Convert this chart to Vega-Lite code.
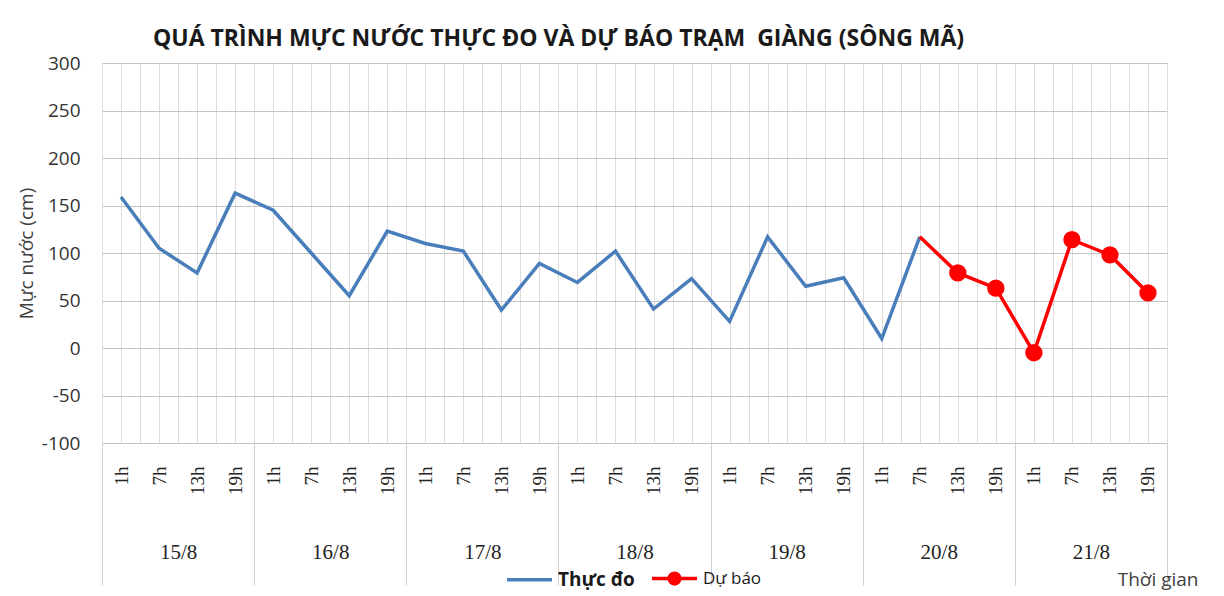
{
  "$schema": "https://vega.github.io/schema/vega-lite/v6.json",
  "width": 1065,
  "height": 380,
  "autosize": {"type": "none"},
  "padding": {"left": 102, "top": 63, "right": 57, "bottom": 153},
  "background": "white",
  "config": {"view": {"stroke": null}},
  "title": {
    "text": "QUÁ TRÌNH MỰC NƯỚC THỰC ĐO VÀ DỰ BÁO TRẠM\u00a0 GIÀNG (SÔNG MÃ)",
    "anchor": "start", "dx": 136, "offset": 3,
    "font": "Open Sans", "fontSize": 23, "fontWeight": "bold", "color": "#1a1a1a"
  },
  "data": {"values": [
    {"i": 0, "day": "15/8", "hour": "1h", "v": 159, "s": "Thực đo"},
    {"i": 1, "day": "15/8", "hour": "7h", "v": 105, "s": "Thực đo"},
    {"i": 2, "day": "15/8", "hour": "13h", "v": 79, "s": "Thực đo"},
    {"i": 3, "day": "15/8", "hour": "19h", "v": 163, "s": "Thực đo"},
    {"i": 4, "day": "16/8", "hour": "1h", "v": 145, "s": "Thực đo"},
    {"i": 5, "day": "16/8", "hour": "7h", "v": 100, "s": "Thực đo"},
    {"i": 6, "day": "16/8", "hour": "13h", "v": 55, "s": "Thực đo"},
    {"i": 7, "day": "16/8", "hour": "19h", "v": 123, "s": "Thực đo"},
    {"i": 8, "day": "17/8", "hour": "1h", "v": 110, "s": "Thực đo"},
    {"i": 9, "day": "17/8", "hour": "7h", "v": 102, "s": "Thực đo"},
    {"i": 10, "day": "17/8", "hour": "13h", "v": 40, "s": "Thực đo"},
    {"i": 11, "day": "17/8", "hour": "19h", "v": 89, "s": "Thực đo"},
    {"i": 12, "day": "18/8", "hour": "1h", "v": 69, "s": "Thực đo"},
    {"i": 13, "day": "18/8", "hour": "7h", "v": 102, "s": "Thực đo"},
    {"i": 14, "day": "18/8", "hour": "13h", "v": 41, "s": "Thực đo"},
    {"i": 15, "day": "18/8", "hour": "19h", "v": 73, "s": "Thực đo"},
    {"i": 16, "day": "19/8", "hour": "1h", "v": 28, "s": "Thực đo"},
    {"i": 17, "day": "19/8", "hour": "7h", "v": 117, "s": "Thực đo"},
    {"i": 18, "day": "19/8", "hour": "13h", "v": 65, "s": "Thực đo"},
    {"i": 19, "day": "19/8", "hour": "19h", "v": 74, "s": "Thực đo"},
    {"i": 20, "day": "20/8", "hour": "1h", "v": 10, "s": "Thực đo"},
    {"i": 21, "day": "20/8", "hour": "7h", "v": 117, "s": "Thực đo"},
    {"i": 21, "day": "20/8", "hour": "7h", "v": 117, "s": "Dự báo"},
    {"i": 22, "day": "20/8", "hour": "13h", "v": 79, "s": "Dự báo"},
    {"i": 23, "day": "20/8", "hour": "19h", "v": 63, "s": "Dự báo"},
    {"i": 24, "day": "21/8", "hour": "1h", "v": -5, "s": "Dự báo"},
    {"i": 25, "day": "21/8", "hour": "7h", "v": 114, "s": "Dự báo"},
    {"i": 26, "day": "21/8", "hour": "13h", "v": 98, "s": "Dự báo"},
    {"i": 27, "day": "21/8", "hour": "19h", "v": 58, "s": "Dự báo"}
  ]},
  "layer": [
    {
      "transform": [{"filter": "datum.s == 'Thực đo'"}],
      "mark": {"type": "line", "strokeWidth": 3.5},
      "encoding": {
        "x": {
          "field": "i", "type": "quantitative",
          "scale": {"domain": [-0.5, 27.5], "nice": false, "zero": false},
          "axis": {
            "orient": "bottom",
            "values": [0,1,2,3,4,5,6,7,8,9,10,11,12,13,14,15,16,17,18,19,20,21,22,23,24,25,26,27],
            "labelExpr": "['1h','7h','13h','19h'][datum.value % 4]",
            "labelAngle": 270, "labelAlign": "right", "labelBaseline": "middle",
            "labelPadding": 23, "labelFont": "Liberation Serif", "labelFontSize": 19,
            "labelColor": "#222222", "labelFlush": false, "labelOverlap": false, "labelBound": false,
            "ticks": false, "domain": false, "grid": true, "gridColor": "#dcdcdc", "gridWidth": 1,
            "title": null
          }
        },
        "y": {
          "field": "v", "type": "quantitative",
          "scale": {"domain": [-100, 300], "nice": false, "zero": false},
          "axis": {
            "values": [-100, -50, 0, 50, 100, 150, 200, 250, 300],
            "labelExpr": "'' + datum.value",
            "labelFont": "Open Sans", "labelFontSize": 19, "labelColor": "#333333",
            "labelPadding": 22, "ticks": false, "domain": false,
            "grid": true, "gridColor": "#c4c4c4", "gridWidth": 1,
            "title": "Mực nước (cm)", "titleFont": "Open Sans", "titleFontSize": 19,
            "titleFontWeight": "normal", "titleColor": "#404040",
            "titleX": -76, "titleY": 190, "titleAngle": 270,
            "titleAlign": "center", "titleBaseline": "middle"
          }
        },
        "color": {
          "field": "s", "type": "nominal",
          "scale": {"domain": ["Thực đo", "Dự báo"], "range": ["#4a7ebb", "#ff0000"]},
          "legend": {
            "title": null, "orient": "none", "legendX": 403, "legendY": 491,
            "direction": "horizontal", "symbolSize": 2025, "symbolStrokeWidth": 3.5,
            "labelFont": "Open Sans", "labelFontSize": 19, "labelColor": "#1a1a1a",
            "labelOffset": 4, "columnPadding": 10, "symbolType": "M-1,0H1",
            "encode": {
              "symbols": {"update": {
                "shape": {"signal": "datum.value == 'Dự báo' ? 'M-1,0H1M0.24,0A0.24,0.24 0 1,1 -0.24,0A0.24,0.24 0 1,1 0.24,0Z' : 'M-1,0H1'"},
                "fill": {"signal": "datum.value == 'Dự báo' ? '#ff0000' : 'transparent'"}
              }},
              "labels": {"update": {
                "fontWeight": {"signal": "datum.value == 'Thực đo' ? 'bold' : 'normal'"},
                "fontSize": {"signal": "datum.value == 'Thực đo' ? 19 : 17"}
              }}
            }
          }
        }
      }
    },
    {
      "transform": [{"filter": "datum.s == 'Dự báo'"}],
      "mark": {"type": "line", "strokeWidth": 3.5},
      "encoding": {
        "x": {
          "field": "i", "type": "quantitative",
          "axis": {
            "orient": "bottom",
            "values": [-0.5,0.5,1.5,2.5,3.5,4.5,5.5,6.5,7.5,8.5,9.5,10.5,11.5,12.5,13.5,14.5,15.5,16.5,17.5,18.5,19.5,20.5,21.5,22.5,23.5,24.5,25.5,26.5,27.5],
            "labels": false, "ticks": true, "tickSize": 142, "tickColor": "#d0d0d0", "tickWidth": 1,
            "tickOpacity": {"condition": {"test": "(datum.value + 0.5) % 4 == 0", "value": 1}, "value": 0},
            "domain": false, "grid": true, "gridColor": "#dcdcdc", "gridWidth": 1,
            "title": "Thời gian", "titleX": 1096, "titleY": 142, "titleAlign": "right",
            "titleBaseline": "alphabetic", "titleFont": "Open Sans", "titleFontSize": 19,
            "titleFontWeight": "normal", "titleColor": "#404040", "titleAngle": 0
          }
        },
        "y": {"field": "v", "type": "quantitative"},
        "color": {"field": "s", "type": "nominal"}
      }
    },
    {
      "transform": [{"filter": "datum.s == 'Dự báo' && datum.i > 21"}],
      "mark": {"type": "circle", "size": 300, "color": "#ff0000", "opacity": 1},
      "encoding": {
        "x": {
          "field": "i", "type": "quantitative",
          "axis": {
            "orient": "bottom",
            "values": [1.5, 5.5, 9.5, 13.5, 17.5, 21.5, 25.5],
            "labelExpr": "['15/8','16/8','17/8','18/8','19/8','20/8','21/8'][floor(datum.value / 4)]",
            "ticks": false, "domain": false, "grid": false,
            "labelPadding": 98, "labelFont": "Liberation Serif", "labelFontSize": 21,
            "labelColor": "#222222", "labelFlush": false, "labelOverlap": false,
            "title": null
          }
        },
        "y": {"field": "v", "type": "quantitative"}
      }
    }
  ],
  "resolve": {"axis": {"x": "independent"}}
}
